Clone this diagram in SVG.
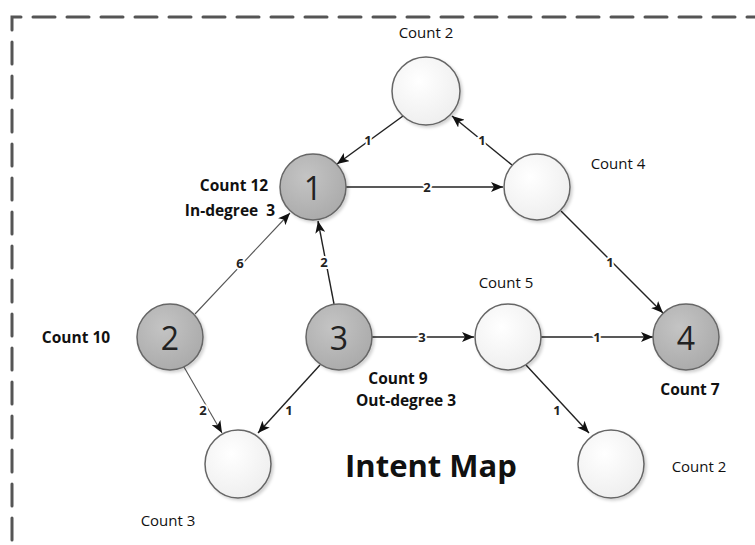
<svg xmlns="http://www.w3.org/2000/svg" width="755" height="545" viewBox="0 0 755 545">
  <style>
    .frame { fill: none; stroke: #555; stroke-width: 3; stroke-dasharray: 22 12; stroke-linecap: round; }
    .grey { fill: url(#greyFill); stroke: #666; stroke-width: 1.5; }
    .white { fill: url(#whiteFill); stroke: #666; stroke-width: 1.5; }
    .num { font-family: "Open Sans", "Liberation Sans", sans-serif; font-size: 32px; fill: #222; text-anchor: middle; dominant-baseline: central; }
    .cnt { font-family: "Open Sans", "Liberation Sans", sans-serif; font-size: 15px; fill: #111; text-anchor: middle; }
    .cntb { font-family: "Open Sans", "Liberation Sans", sans-serif; font-size: 15.5px; font-weight: bold; fill: #111; text-anchor: middle; }
    .edge { stroke: #222; stroke-width: 1.4; fill: none; marker-end: url(#arrow); }
    .edge.light { stroke: #555; stroke-width: 1.1; }
    .lbl { font-family: "Open Sans", "Liberation Sans", sans-serif; font-size: 13px; font-weight: bold; fill: #222; text-anchor: middle; dominant-baseline: central; paint-order: stroke; stroke: #fff; stroke-width: 4px; }
    .title { font-family: "Open Sans", "Liberation Sans", sans-serif; font-size: 31px; font-weight: bold; fill: #111; text-anchor: middle; }
  </style>
  <defs>
    <radialGradient id="greyFill" cx="0.4" cy="0.35" r="0.7">
      <stop offset="0" stop-color="#c4c4c4"/>
      <stop offset="1" stop-color="#aaaaaa"/>
    </radialGradient>
    <radialGradient id="whiteFill" cx="0.4" cy="0.35" r="0.7">
      <stop offset="0" stop-color="#ffffff"/>
      <stop offset="1" stop-color="#eeeeee"/>
    </radialGradient>
    <filter id="shadow" x="-20%" y="-20%" width="150%" height="150%">
      <feDropShadow dx="2" dy="2" stdDeviation="1.5" flood-color="#000" flood-opacity="0.18"/>
    </filter>
    <marker id="arrow" viewBox="0 0 12 10" refX="12" refY="5" markerWidth="12" markerHeight="10" markerUnits="userSpaceOnUse" orient="auto">
      <path d="M0,0 L12,5 L0,10 L3,5 Z" fill="#111"/>
    </marker>
  </defs>

  <!-- dashed frame, open at right and bottom edges -->
  <path class="frame" d="M12,540 L12,17 L760,17"/>

  <!-- connectors -->
  <g id="connectors">
    <line class="edge" x1="403" y1="116" x2="337" y2="164"/>
    <line class="edge" x1="512" y1="165" x2="452" y2="116"/>
    <line class="edge" x1="346" y1="187" x2="503" y2="187"/>
    <line class="edge" x1="561" y1="211" x2="663" y2="313"/>
    <line class="edge light" x1="195" y1="314" x2="290" y2="213"/>
    <line class="edge" x1="334" y1="304" x2="318" y2="221"/>
    <line class="edge" x1="372" y1="337" x2="474" y2="337"/>
    <line class="edge" x1="541" y1="337" x2="653" y2="337"/>
    <line class="edge" x1="526" y1="365" x2="589" y2="433"/>
    <line class="edge light" x1="184" y1="367" x2="222" y2="433"/>
    <line class="edge" x1="320" y1="365" x2="258" y2="433"/>

    <text class="lbl" x="368" y="140">1</text>
    <text class="lbl" x="482" y="140">1</text>
    <text class="lbl" x="427" y="187">2</text>
    <text class="lbl" x="610" y="262">1</text>
    <text class="lbl" x="240" y="263">6</text>
    <text class="lbl" x="324" y="262">2</text>
    <text class="lbl" x="422" y="337">3</text>
    <text class="lbl" x="597" y="337">1</text>
    <text class="lbl" x="557" y="410">1</text>
    <text class="lbl" x="203" y="410">2</text>
    <text class="lbl" x="289" y="410">1</text>
  </g>

  <g id="node-top">
    <circle class="white" cx="426" cy="91" r="34" filter="url(#shadow)"/>
    <text class="cnt" x="426" y="38">Count 2</text>
  </g>

  <g id="node-1">
    <circle class="grey" cx="313" cy="187" r="33" filter="url(#shadow)"/>
    <text class="num" x="313" y="187">1</text>
    <text class="cntb" x="234" y="191">Count 12</text>
    <text class="cntb" x="230" y="216" xml:space="preserve">In-degree  3</text>
  </g>

  <g id="node-count4">
    <circle class="white" cx="537" cy="187" r="33" filter="url(#shadow)"/>
    <text class="cnt" x="618" y="169">Count 4</text>
  </g>

  <g id="node-2">
    <circle class="grey" cx="170" cy="337" r="33" filter="url(#shadow)"/>
    <text class="num" x="170" y="337">2</text>
    <text class="cntb" x="76" y="343">Count 10</text>
  </g>

  <g id="node-3">
    <circle class="grey" cx="339" cy="337" r="33" filter="url(#shadow)"/>
    <text class="num" x="339" y="337">3</text>
    <text class="cntb" x="398" y="384">Count 9</text>
    <text class="cntb" x="406" y="406">Out-degree 3</text>
  </g>

  <g id="node-count5">
    <circle class="white" cx="508" cy="337" r="33" filter="url(#shadow)"/>
    <text class="cnt" x="506" y="288">Count 5</text>
  </g>

  <g id="node-4">
    <circle class="grey" cx="686" cy="337" r="33" filter="url(#shadow)"/>
    <text class="num" x="686" y="337">4</text>
    <text class="cntb" x="690" y="395">Count 7</text>
  </g>

  <g id="node-count3">
    <ellipse class="white" cx="238" cy="464" rx="33" ry="34" filter="url(#shadow)"/>
    <text class="cnt" x="168" y="526">Count 3</text>
  </g>

  <g id="node-count2b">
    <ellipse class="white" cx="611" cy="464" rx="33" ry="34" filter="url(#shadow)"/>
    <text class="cnt" x="699" y="472">Count 2</text>
  </g>

  <text class="title" x="431" y="477">Intent Map</text>
</svg>
